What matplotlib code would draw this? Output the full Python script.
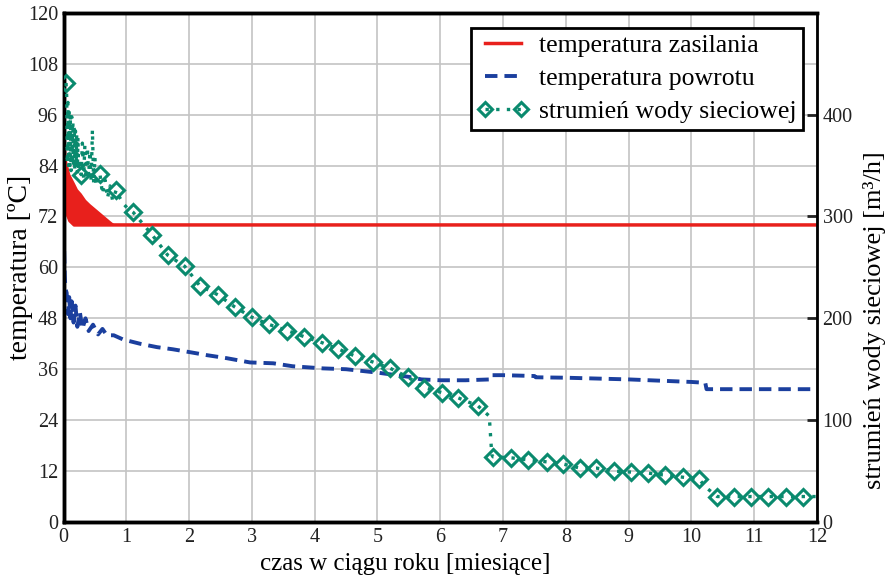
import numpy as np
import matplotlib
matplotlib.use("Agg")
import matplotlib.pyplot as plt
from matplotlib.lines import Line2D

plt.rcParams['font.family'] = ['Liberation Serif', 'DejaVu Serif']

# temperatura zasilania [C] (upper envelope / lower envelope of the daily swing)
sup_t = [0.0, 0.02, 0.05, 0.10, 0.17, 0.22, 0.28, 0.35, 0.42, 0.50, 0.58, 0.66, 0.74, 0.80, 0.85, 12.0]
sup_hi = [102, 90, 85, 82, 80, 78.5, 77.5, 76, 75, 74, 73, 72, 71, 70.3, 70, 70]
sup_lo = [86, 76, 73, 71, 70, 70, 70, 70, 70, 70, 70, 70, 70, 70, 70, 70]

# temperatura powrotu [C]
ret_t = [0.0, 0.01, 0.02, 0.03, 0.05, 0.07, 0.09, 0.11, 0.13, 0.16, 0.19, 0.22, 0.26, 0.30,
         0.35, 0.40, 0.47, 0.55, 0.62, 0.69, 0.80, 0.95, 1.22, 1.49, 1.74, 2.02, 2.29, 2.60,
         2.97, 3.34, 3.65, 4.13, 4.50, 5.00, 5.50, 5.70, 6.00, 6.40, 6.80, 6.82, 7.00, 7.50,
         7.52, 8.00, 9.00, 10.00, 10.22, 10.24, 11.0, 12.0]
ret_v = [73, 64, 58, 55, 54, 49, 53, 48, 52, 47, 51, 46, 49.5, 45.5,
         48, 45, 46.5, 44.2, 45.5, 44, 44, 43, 42, 41.2, 40.7, 40, 39.3, 38.6,
         37.6, 37.4, 36.7, 36.2, 36.0, 35.2, 34.2, 33.6, 33.4, 33.4, 33.6, 34.6, 34.6, 34.4,
         34.1, 34.0, 33.6, 33.0, 32.8, 31.3, 31.3, 31.3]

# strumien wody sieciowej [m3/h] - diamond points
flow_t = [0.04, 0.28, 0.58, 0.84, 1.11, 1.41, 1.66, 1.93, 2.17, 2.46, 2.73, 3.00, 3.27, 3.56,
          3.83, 4.12, 4.37, 4.64, 4.93, 5.20, 5.49, 5.74, 6.03, 6.28, 6.60, 6.84, 7.13, 7.40,
          7.70, 7.95, 8.22, 8.48, 8.77, 9.04, 9.31, 9.58, 9.86, 10.12, 10.41, 10.68, 10.95,
          11.22, 11.50, 11.78]
flow_v = [431, 341, 342, 326, 304, 282, 262, 251, 232, 223, 211, 201, 194, 188,
          182, 176, 170, 163, 157, 151, 142, 132, 127, 122, 114, 64, 63, 61,
          59, 57, 53, 53, 50, 49, 48, 46, 44, 42, 25, 25, 25,
          25, 25, 25]
# daily values between the markers
flow_extra_t = [0.05, 0.06, 0.07, 0.08, 0.09, 0.10, 0.11, 0.12, 0.13, 0.14, 0.15, 0.16, 0.17,
                0.18, 0.19, 0.20, 0.21, 0.22, 0.23, 0.24, 0.26, 0.30, 0.32, 0.34, 0.36, 0.38,
                0.40, 0.42, 0.44, 0.46, 0.48, 0.50, 0.52, 0.55, 0.62, 0.66, 0.70, 0.74, 0.78,
                0.90, 0.96, 1.02, 6.78, 6.82, 10.25, 12.0]
flow_extra_v = [418, 352, 412, 348, 405, 350, 400, 345, 398, 352, 392, 348, 388,
                345, 384, 350, 380, 342, 378, 346, 352, 372, 338, 370, 336, 368,
                340, 364, 334, 385, 332, 358, 330, 338, 322, 336, 318, 330, 316,
                318, 312, 308, 104, 66, 33, 25]

red = '#e8201c'
blue = '#1b3f9e'
green = '#0a8a6e'

fig = plt.figure(figsize=(8.91, 5.8), dpi=100)
ax = fig.add_axes([0.0713, 0.1, 0.8457, 0.878])
ax2 = ax.twinx()

ax.fill_between(sup_t, sup_lo, sup_hi, color=red, lw=0, zorder=3)
ax.plot(sup_t, sup_lo, color=red, lw=2.5, zorder=3)
ax.plot(ret_t, ret_v, color=blue, lw=2.8, ls=(0, (3.2, 1.8)), zorder=3)

order = np.argsort(flow_t + flow_extra_t)
line_t = np.array(flow_t + flow_extra_t)[order]
line_v = np.array(flow_v + flow_extra_v)[order]
ax2.plot(line_t, line_v, color=green, lw=2.4, ls=(0, (1, 2.2)), zorder=3)
ax2.plot(flow_t, flow_v, ls='none', marker='D', ms=8, mfc='none', mec=green, mew=2.2, zorder=4)

ax.set_xlim(0, 12)
ax.set_ylim(0, 120)
ax2.set_ylim(0, 500)
ax.set_xticks(range(13))
ax.set_yticks(range(0, 121, 12))
ax2.set_yticks([0, 100, 200, 300, 400])
ax.grid(True, color='#c4c4c4', lw=1.2)
ax.set_axisbelow(True)
ax.tick_params(length=0, labelsize=14.5, pad=4, colors='#222222')
ax2.tick_params(direction='in', length=7, width=2, labelsize=14.5, pad=4, colors='#222222')
for s in ['left', 'bottom', 'top']:
    ax.spines[s].set_linewidth(2.5)
ax2.spines['right'].set_linewidth(2)
for s in ['left', 'bottom', 'top']:
    ax2.spines[s].set_linewidth(2.5)

ax.set_xlabel('czas w ciągu roku [miesiące]', fontsize=18)
ax.xaxis.set_label_coords(0.453, -0.06)
ax.set_ylabel('temperatura [ºC]', fontsize=20)
ax.yaxis.set_label_coords(-0.04, 0.5)
ax2.set_ylabel('strumień wody sieciowej [m³/h]', fontsize=19)
ax2.yaxis.set_label_coords(1.061, 0.396)

handles = [Line2D([], [], color=red, lw=2.5),
           Line2D([], [], color=blue, lw=2.8, ls=(0, (3.2, 1.8))),
           Line2D([], [], color=green, lw=2.4, ls=(0, (1, 2.2)), marker='D', ms=7,
                  mfc='none', mec=green, mew=2.2)]
labels = ['temperatura zasilania', 'temperatura powrotu', 'strumień wody sieciowej']
leg = ax2.legend(handles, labels, loc='upper right', bbox_to_anchor=(0.982, 0.971),
                 fontsize=18.5, fancybox=False, framealpha=1, edgecolor='black',
                 numpoints=2, handlelength=2.0, borderpad=0.25, labelspacing=0.4,
                 handletextpad=0.4, borderaxespad=0)
leg.get_frame().set_linewidth(2)

fig.savefig('out.png', dpi=100)
